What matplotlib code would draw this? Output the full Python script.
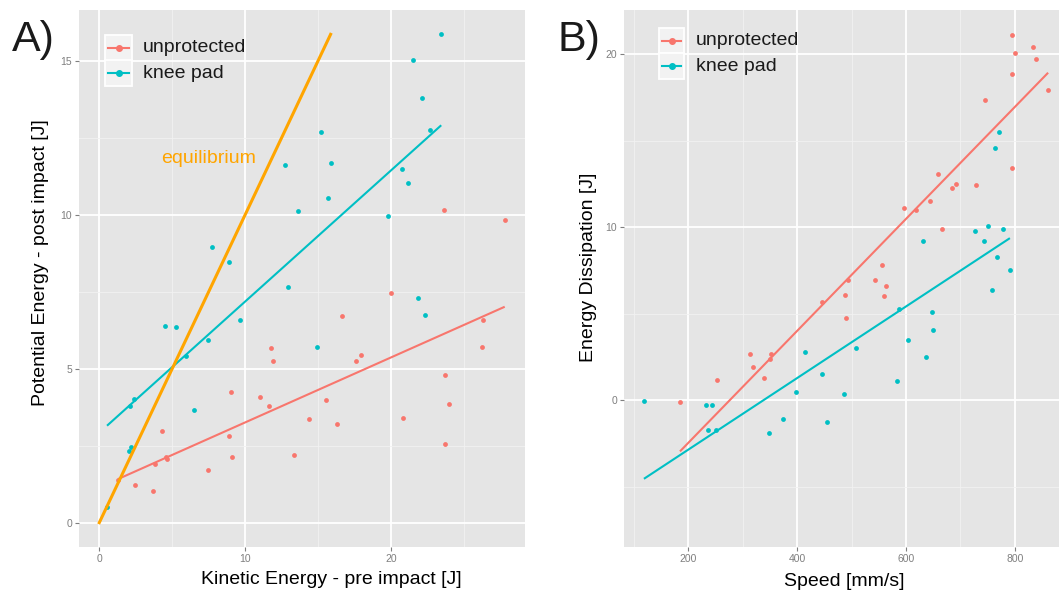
import numpy as np
import matplotlib
matplotlib.use("Agg")
import matplotlib.pyplot as plt
from matplotlib.ticker import MultipleLocator
from matplotlib.patches import Rectangle
from matplotlib.lines import Line2D

plt.rcParams['font.family'] = ['Liberation Sans', 'DejaVu Sans']

# ---------------- data ----------------
series_names = ["unprotected", "knee pad"]
series_colors = ["#F8766D", "#00BFC4"]

# Panel A: kinetic energy pre impact vs potential energy post impact
ke_unprotected = [19.96, 16.64, 11.75, 11.90, 17.56, 17.92, 26.30, 26.20, 23.66, 23.96,
                  20.78, 23.68, 9.00, 11.04, 11.61, 15.52, 14.38, 16.28, 13.33, 8.92,
                  9.12, 7.45, 4.30, 4.60, 4.64, 3.81, 2.42, 3.70, 1.30, 23.64, 27.78]
pe_unprotected = [7.46, 6.71, 5.68, 5.26, 5.25, 5.45, 6.59, 5.71, 4.78, 3.85,
                  3.40, 2.55, 4.24, 4.09, 3.78, 3.97, 3.35, 3.20, 2.20, 2.81,
                  2.13, 1.72, 2.96, 2.13, 2.08, 1.90, 1.23, 1.02, 1.39, 10.16, 9.84]
ke_kneepad = [23.43, 21.49, 22.08, 22.66, 15.20, 12.73, 15.87, 20.71, 21.12, 15.68,
              13.65, 19.78, 7.75, 8.87, 12.94, 21.85, 22.31, 4.53, 5.28, 9.67,
              7.45, 14.93, 5.92, 6.47, 2.35, 2.10, 2.19, 2.03, 0.53]
pe_kneepad = [15.85, 15.02, 13.79, 12.73, 12.68, 11.62, 11.68, 11.48, 11.04, 10.54,
              10.13, 9.96, 8.94, 8.47, 7.65, 7.28, 6.75, 6.37, 6.34, 6.58,
              5.94, 5.70, 5.42, 3.66, 4.00, 3.78, 2.46, 2.31, 0.52]

# Panel B: speed vs energy dissipation
speed_unprotected = [795.0, 799.5, 833.6, 838.0, 794.5, 861.0, 745.0, 794.5, 659.0, 692.0,
                     684.3, 729.0, 643.3, 596.0, 618.7, 666.0, 555.2, 493.3, 542.3, 563.0,
                     487.2, 559.4, 445.5, 490.0, 313.9, 352.5, 349.5, 319.4, 338.5, 253.3, 184.8]
diss_unprotected = [21.10, 20.08, 20.40, 19.70, 18.83, 17.90, 17.37, 13.43, 13.07, 12.49,
                    12.28, 12.45, 11.53, 11.09, 11.00, 9.90, 7.80, 6.97, 6.94, 6.63,
                    6.07, 6.05, 5.69, 4.75, 2.65, 2.67, 2.40, 1.92, 1.31, 1.15, -0.12]
speed_kneepad = [771.2, 763.8, 631.0, 726.5, 751.0, 778.0, 743.6, 767.5, 790.8, 757.8,
                 587.5, 647.0, 649.4, 603.5, 637.1, 507.4, 414.9, 445.5, 582.7, 397.2,
                 486.5, 118.6, 232.5, 243.0, 236.2, 250.9, 374.5, 455.3, 347.7]
diss_kneepad = [15.50, 14.55, 9.22, 9.80, 10.07, 9.91, 9.22, 8.26, 7.55, 6.38,
                5.27, 5.13, 4.07, 3.50, 2.50, 3.05, 2.79, 1.52, 1.10, 0.48,
                0.39, -0.02, -0.29, -0.27, -1.69, -1.69, -1.07, -1.23, -1.86]

equilibrium_label = "equilibrium"
equilibrium_color = "#FFA500"

# ---------------- figure ----------------
W, H = 1059, 592
fig = plt.figure(figsize=(W / 100, H / 100), dpi=100)


def fx(px):
    return px / W


def fy(py):
    return 1 - py / H


PANEL_BG = "#E5E5E5"
GREY50 = "#7F7F7F"


def style_axes(ax, xmaj, xmin, ymaj, ymin):
    ax.set_facecolor(PANEL_BG)
    for s in ax.spines.values():
        s.set_visible(False)
    ax.xaxis.set_major_locator(MultipleLocator(xmaj))
    ax.xaxis.set_minor_locator(MultipleLocator(xmin))
    ax.yaxis.set_major_locator(MultipleLocator(ymaj))
    ax.yaxis.set_minor_locator(MultipleLocator(ymin))
    ax.grid(which="major", color="white", linewidth=1.3)
    ax.grid(which="minor", color="#F2F2F2", linewidth=0.6)
    ax.set_axisbelow(True)
    ax.tick_params(which="major", length=3, width=0.8, color=GREY50,
                   labelcolor=GREY50, labelsize=7.5, pad=2)
    ax.tick_params(which="minor", length=0)


def fit_line(ax, x, y, color):
    x = np.asarray(x)
    y = np.asarray(y)
    k, b = np.polyfit(x, y, 1)
    xs = np.array([x.min(), x.max()])
    ax.plot(xs, k * xs + b, color=color, linewidth=1.5, zorder=3,
            solid_capstyle="butt")


def draw_legend(x0, y0, key_w, row_h, text_x):
    for i, (name, col) in enumerate(zip(series_names, series_colors)):
        top = y0 + i * row_h
        fig.patches.append(Rectangle((fx(x0), fy(top + row_h)), key_w / W, row_h / H,
                                     transform=fig.transFigure, facecolor="#F2F2F2",
                                     edgecolor="white", linewidth=1.3, zorder=5))
        cy = top + row_h / 2
        fig.lines.append(Line2D([fx(x0 + 3), fx(x0 + key_w - 3)], [fy(cy), fy(cy)],
                                transform=fig.transFigure, color=col, linewidth=1.5,
                                marker=None, zorder=6))
        fig.lines.append(Line2D([fx(x0 + key_w / 2)], [fy(cy)],
                                transform=fig.transFigure, color=col, marker="o",
                                markersize=4, linestyle="none", zorder=7))
        fig.text(fx(text_x), fy(cy), name, fontsize=14, color="#1a1a1a",
                 ha="left", va="center", zorder=8)


# ---------- Panel A ----------
axA = fig.add_axes([fx(79), fy(547), (525 - 79) / W, (547 - 10) / H])
style_axes(axA, 10, 5, 5, 2.5)
for x, y, col in [(ke_unprotected, pe_unprotected, series_colors[0]),
                  (ke_kneepad, pe_kneepad, series_colors[1])]:
    axA.scatter(x, y, s=12, color=col, linewidths=0, zorder=2)
    fit_line(axA, x, y, col)
eq_end = max(pe_kneepad)
axA.plot([0, eq_end], [0, eq_end], color=equilibrium_color, linewidth=2.2, zorder=4)
axA.text(7.46, 11.68, equilibrium_label, color=equilibrium_color, fontsize=14,
         ha="center", va="baseline")
axA.set_xlim(-1.39, 29.17)
axA.set_ylim(-0.79, 16.64)
axA.set_xlabel("Kinetic Energy - pre impact [J]", fontsize=14, color="black",
               va="baseline")
axA.xaxis.set_label_coords((331.5 - 79) / 446, (547 - 584.5) / 537)
axA.set_ylabel("Potential Energy - post impact [J]", fontsize=14, color="black",
               va="center", rotation_mode="anchor")
axA.yaxis.set_label_coords((41 - 79) / 446, (547 - 263) / 537)

# ---------- Panel B ----------
axB = fig.add_axes([fx(624), fy(547), (1059 - 624) / W, (547 - 10) / H])
style_axes(axB, 200, 100, 10, 5)
for x, y, col in [(speed_unprotected, diss_unprotected, series_colors[0]),
                  (speed_kneepad, diss_kneepad, series_colors[1])]:
    axB.scatter(x, y, s=12, color=col, linewidths=0, zorder=2)
    fit_line(axB, x, y, col)
axB.set_xlim(82, 881)
axB.set_ylim(-8.47, 22.55)
axB.set_xlabel("Speed [mm/s]", fontsize=14, color="black", va="baseline")
axB.xaxis.set_label_coords((844 - 624) / 435, (547 - 586) / 537)
axB.set_ylabel("Energy Dissipation [J]", fontsize=14, color="black",
               va="center", rotation_mode="anchor")
axB.yaxis.set_label_coords((588.8 - 624) / 435, (547 - 267) / 537)

# ---------- legends ----------
draw_legend(105.3, 35, 26.4, 25.5, 142.7)
draw_legend(659, 27.7, 25.3, 25.6, 696)

# ---------- panel tags ----------
fig.text(fx(11.5), fy(50.7), "A)", fontsize=31, color="#1a1a1a", ha="left", va="baseline")
fig.text(fx(557.6), fy(50.7), "B)", fontsize=31, color="#1a1a1a", ha="left", va="baseline")

fig.savefig("out.png", dpi=100, facecolor="white")
